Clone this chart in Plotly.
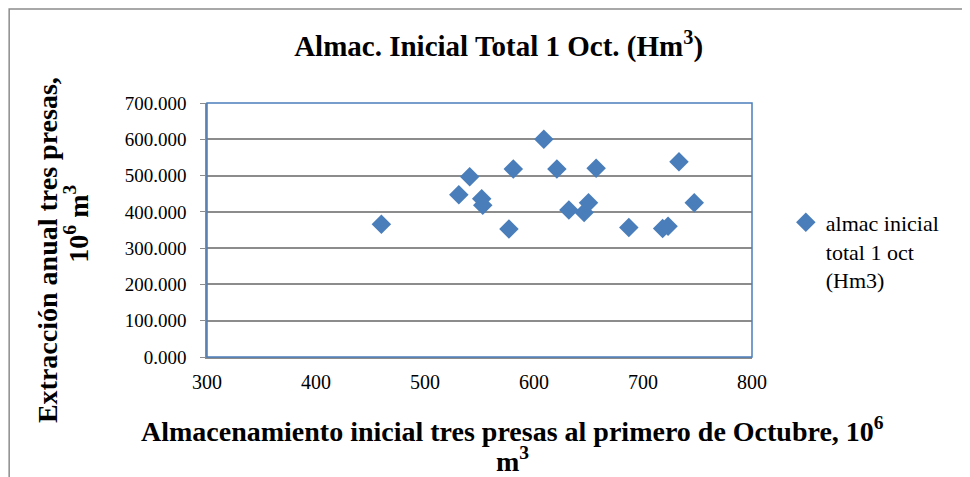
import plotly.graph_objects as go

# Data
almac_inicial = [460, 531, 541, 552, 553, 577, 581, 609, 621, 632, 646, 650, 657, 687, 718, 723, 733, 747]
extraccion = [366, 447, 497, 436, 418, 353, 518, 600, 518, 405, 398, 425, 520, 357, 354, 360, 538, 425]
y_tick_vals = [0, 100, 200, 300, 400, 500, 600, 700]
y_tick_text = ["0.000", "100.000", "200.000", "300.000", "400.000", "500.000", "600.000", "700.000"]
x_tick_vals = [300, 400, 500, 600, 700, 800]

FONT = "Liberation Serif, Times New Roman, serif"
BLUE = "#4A7EBB"
GRID = "#8C8C8C"

fig = go.Figure()
fig.add_trace(go.Scatter(
    x=almac_inicial, y=extraccion, mode="markers",
    name="almac inicial<br>total 1 oct<br>(Hm3)",
    marker=dict(symbol="diamond", size=15, color=BLUE, line=dict(width=0)),
))

fig.update_layout(
    width=962, height=469,
    margin=dict(l=199, r=218, t=95, b=120),
    paper_bgcolor="white", plot_bgcolor="white",
    font=dict(family=FONT, color="black", size=19),
    title=dict(text="<b>Almac. Inicial Total 1 Oct. (Hm<sup>3</sup>)</b>",
               x=0.51, xanchor="center", y=0.919, yanchor="middle",
               font=dict(family=FONT, size=29, color="black")),
    showlegend=True,
    legend=dict(x=1.062, xanchor="left", y=0.612, yanchor="top",
                font=dict(family=FONT, size=22, color="black"),
                valign="top", bgcolor="rgba(0,0,0,0)", itemwidth=30),
    xaxis=dict(range=[300, 800], tickvals=x_tick_vals, showgrid=False, zeroline=False,
               showline=True, linecolor=GRID, linewidth=1.5, ticks="",
               ticklabelstandoff=6,
               tickfont=dict(family=FONT, size=20, color="black")),
    yaxis=dict(range=[0, 700], tickvals=y_tick_vals, ticktext=y_tick_text,
               showgrid=True, gridcolor=GRID, gridwidth=1.5, zeroline=False,
               showline=True, linecolor=GRID, linewidth=1.5, ticks="outside",
               tickcolor=GRID, ticklen=5, ticklabelstandoff=10,
               tickfont=dict(family=FONT, size=19, color="black")),
)

# plot area frame (blue)
fig.add_shape(type="rect", xref="x domain", yref="y domain", x0=0, x1=1, y0=0, y1=1,
              line=dict(color=BLUE, width=1.5), layer="above")
# outer chart border
fig.add_shape(type="rect", xref="paper", yref="paper",
              x0=-0.363, x1=1.387, y0=-0.5, y1=1.370,
              line=dict(color="#8C8C8C", width=1.5), layer="below")

# x axis title (two lines)
fig.add_annotation(text="<b>Almacenamiento inicial tres presas al primero de Octubre, 10<sup>6</sup></b>",
                   xref="paper", yref="paper", x=0.561, y=-0.287, xanchor="center", yanchor="middle",
                   showarrow=False, font=dict(family=FONT, size=28, color="black"))
fig.add_annotation(text="<b>m<sup>3</sup></b>",
                   xref="paper", yref="paper", x=0.561, y=-0.405, xanchor="center", yanchor="middle",
                   showarrow=False, font=dict(family=FONT, size=28, color="black"))
# y axis title (two lines)
fig.add_annotation(text="<b>Extracción anual tres presas,</b>",
                   xref="paper", yref="paper", x=-0.2936, y=0.421, xanchor="center", yanchor="middle",
                   textangle=-90, showarrow=False, font=dict(family=FONT, size=28, color="black"))
fig.add_annotation(text="<b>10<sup>6</sup> m<sup>3</sup></b>",
                   xref="paper", yref="paper", x=-0.2385, y=0.525, xanchor="center", yanchor="middle",
                   textangle=-90, showarrow=False, font=dict(family=FONT, size=28, color="black"))

fig.write_html("out.html")
